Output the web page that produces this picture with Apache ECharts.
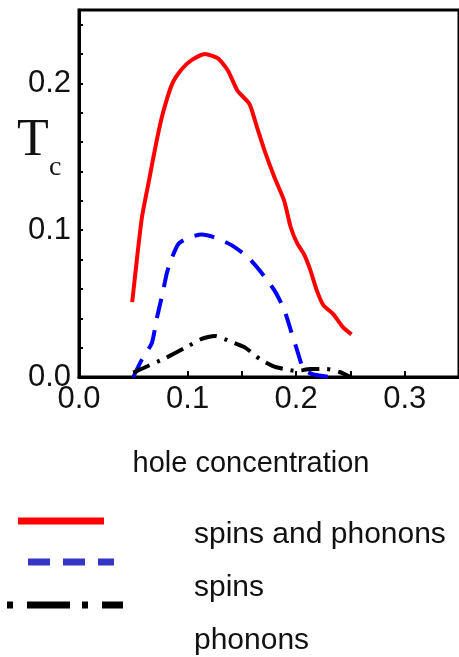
<!DOCTYPE html>
<html>
<head>
<meta charset="utf-8">
<script src="https://cdn.jsdelivr.net/npm/echarts@6/dist/echarts.min.js"></script>
<style>html,body{margin:0;padding:0;background:#fff;}#c{width:459px;height:657px;}</style>
</head>
<body>
<div id="c"></div>
<script>
// Data
var xTickLabels = ['0.0', '0.1', '0.2', '0.3'];
var yTickLabels = ['0.0', '0.1', '0.2'];
var seriesNames = ['spins and phonons', 'spins', 'phonons'];

var bothX = [0.049, 0.053, 0.058, 0.0645, 0.071, 0.077, 0.086, 0.095, 0.104, 0.116, 0.128, 0.137, 0.146, 0.157, 0.164, 0.171, 0.180, 0.189, 0.195, 0.201, 0.207, 0.213, 0.219, 0.225, 0.234, 0.243, 0.251];
var bothY = [0.051, 0.078, 0.109, 0.134, 0.159, 0.179, 0.200, 0.210, 0.216, 0.220, 0.217, 0.209, 0.195, 0.186, 0.170, 0.154, 0.136, 0.120, 0.102, 0.091, 0.084, 0.073, 0.059, 0.049, 0.043, 0.034, 0.029];

var spinsX = [0.050, 0.058, 0.067, 0.072, 0.077, 0.081, 0.086, 0.092, 0.101, 0.113, 0.125, 0.140, 0.155, 0.167, 0.180, 0.189, 0.195, 0.201, 0.207, 0.215, 0.222, 0.231];
var spinsY = [0.000, 0.012, 0.023, 0.041, 0.057, 0.071, 0.082, 0.091, 0.095, 0.097, 0.095, 0.090, 0.082, 0.072, 0.059, 0.046, 0.032, 0.018, 0.005, 0.002, 0.001, 0.000];

var phononsX = [0.050, 0.062, 0.080, 0.098, 0.113, 0.125, 0.140, 0.153, 0.167, 0.180, 0.192, 0.200, 0.213, 0.228, 0.240, 0.250];
var phononsY = [0.003, 0.007, 0.013, 0.020, 0.026, 0.028, 0.024, 0.020, 0.012, 0.007, 0.005, 0.004, 0.0054, 0.0054, 0.0034, 0.000];

function pairs(xs, ys) { return xs.map(function (x, i) { return [x, ys[i]]; }); }

var chart = echarts.init(document.getElementById('c'), null, { renderer: 'canvas' });
var sans = 'Liberation Sans, Arial, sans-serif';
var serif = 'Liberation Serif, Times New Roman, serif';

function fmt(list) {
  return function (v) {
    var k = Math.round(v * 100);
    if (k % 10 !== 0) return '';
    var s = (k / 100).toFixed(1);
    return list.indexOf(s) >= 0 ? s : '';
  };
}

function legendLine(x1, x2, y, color, dash) {
  return { type: 'line', silent: true,
    shape: { x1: x1, y1: y, x2: x2, y2: y },
    style: { stroke: color, lineWidth: 7, lineDash: dash, lineCap: 'butt' } };
}
function legendText(txt, x, y) {
  return { type: 'text', silent: true, x: x, y: y,
    style: { text: txt, font: '30px ' + sans, fill: '#111', align: 'left', verticalAlign: 'middle' } };
}

var option = {
  animation: false,
  backgroundColor: '#fff',
  grid: { left: 79, top: 10, bottom: 280, right: -5, show: true, borderColor: '#000', borderWidth: 3, backgroundColor: 'transparent' },
  xAxis: {
    type: 'value', min: 0, max: 0.35, interval: 0.05,
    name: 'hole concentration', nameLocation: 'middle', nameGap: 72,
    nameTextStyle: { fontFamily: sans, fontSize: 29, color: '#111', padding: [0, 36, 0, 0] },
    axisLine: { show: true, lineStyle: { color: '#000', width: 3 } },
    axisTick: { show: true, inside: true, length: 6, lineStyle: { color: '#000', width: 2 } },
    axisLabel: { formatter: fmt(xTickLabels), fontFamily: sans, fontSize: 31, color: '#111', margin: 7, showMaxLabel: false },
    splitLine: { show: false }
  },
  yAxis: {
    type: 'value', min: 0, max: 0.25, interval: 0.02,
    axisLine: { show: true, lineStyle: { color: '#000', width: 3 } },
    axisTick: { show: true, inside: true, length: 4, lineStyle: { color: '#000', width: 2 } },
    axisLabel: { formatter: fmt(yTickLabels), fontFamily: sans, fontSize: 31, color: '#111', margin: 8 },
    splitLine: { show: false }
  },
  series: [
    { name: seriesNames[0], type: 'line', data: pairs(bothX, bothY), symbol: 'none', smooth: 0.2,
      lineStyle: { color: '#ff0000', width: 4 }, itemStyle: { color: '#ff0000' } },
    { name: seriesNames[1], type: 'line', data: pairs(spinsX, spinsY), symbol: 'none', smooth: 0.2,
      lineStyle: { color: '#0000ff', width: 4, type: [20, 12] }, itemStyle: { color: '#0000ff' } },
    { name: seriesNames[2], type: 'line', data: pairs(phononsX, phononsY), symbol: 'none', smooth: 0.2,
      lineStyle: { color: '#000', width: 4, type: [18, 8, 3, 8] }, itemStyle: { color: '#000' } }
  ],
  graphic: [
    { type: 'text', left: 17, top: 115, style: { text: 'T', font: '52px ' + serif, fill: '#111' } },
    { type: 'text', left: 49, top: 154, style: { text: 'c', font: '28px ' + serif, fill: '#111' } },
    legendLine(18, 104, 521, '#ff0000', null),
    legendLine(28, 114, 562, '#3535c8', [22, 13]),
    legendLine(7, 123, 605, '#000', [6, 14, 43, 12]),
    legendText(seriesNames[0], 194, 535),
    legendText(seriesNames[1], 194, 588),
    legendText(seriesNames[2], 194, 641)
  ]
};
chart.setOption(option);
</script>
</body>
</html>
